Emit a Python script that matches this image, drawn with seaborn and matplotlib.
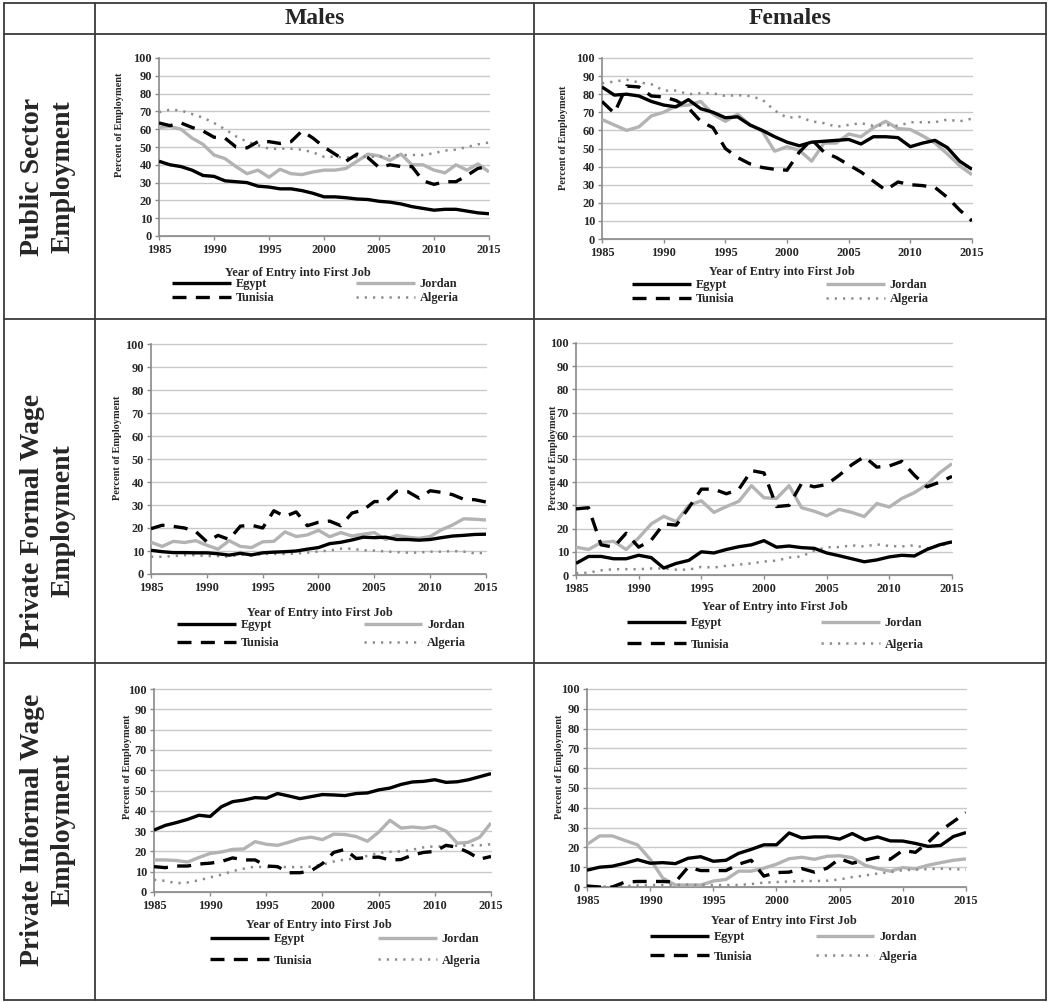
import numpy as np
import pandas as pd
import matplotlib
matplotlib.use("Agg")
import matplotlib.pyplot as plt
import seaborn as sns

years = list(range(1985, 2016))
countries = ["Egypt", "Jordan", "Tunisia", "Algeria"]
col_titles = ["Males", "Females"]
row_titles = ["Public Sector\nEmployment", "Private Formal Wage\nEmployment", "Private Informal Wage\nEmployment"]
x_ticks = [1985, 1990, 1995, 2000, 2005, 2010, 2015]
y_ticks = [0, 10, 20, 30, 40, 50, 60, 70, 80, 90, 100]
xlabel_text = "Year of Entry into First Job"
ylabel_text = "Percent of Employment"

# ---- Public sector, males
pub_m_egypt = [42, 40, 39, 37, 34, 33.5, 31, 30.5, 30, 28, 27.5, 26.5, 26.5, 25.5, 24, 22, 22, 21.5, 20.8, 20.5, 19.5, 19, 18, 16.5, 15.5, 14.5, 15, 15, 14, 13, 12.5]
pub_m_jordan = [61, 61.5, 60, 55, 51.5, 45.5, 43.5, 39, 35, 37, 33, 37.5, 35, 34.5, 36, 37, 37, 38, 42, 46, 45, 42.5, 46, 40, 40, 37, 35.5, 40, 37, 40.5, 36]
pub_m_tunisia = [63.5, 62, 63.5, 61, 59, 55.5, 55, 50, 49.5, 53, 53, 52, 53, 59, 55, 50, 46, 42, 46, 44, 38.5, 40, 39, 39, 31, 29, 30.5, 30.5, 34, 38, 39]
pub_m_algeria = [69.5, 71, 70.5, 68.5, 66.5, 63.5, 60, 56, 53, 51, 49, 49, 49, 48.5, 47, 44.5, 44.5, 44, 44.5, 44.5, 44.5, 45, 45.5, 45.5, 45.5, 46.5, 48, 48.5, 50, 51.5, 52.5]

# ---- Public sector, females
pub_f_egypt = [84, 79.5, 80, 79, 76, 74, 73, 77, 72, 70, 67, 67.5, 63, 60, 56.5, 53.5, 51.5, 53.5, 54, 54.5, 55, 52.5, 56.5, 56.5, 56, 51, 53, 54.5, 50.5, 43, 38.5]
pub_f_jordan = [66, 63, 60, 62, 68, 70, 73.5, 74, 76, 69, 65, 69, 63, 59.5, 48.5, 51, 49, 43, 53, 53, 58, 56.5, 61.5, 65, 61, 60.5, 57, 53, 47, 40.5, 35.5]
pub_f_tunisia = [76, 69.5, 84.5, 84, 79, 78.5, 76.5, 72.5, 65, 61.5, 50, 45, 41.5, 39.5, 38.5, 38, 48, 55, 48, 45, 41, 37, 32, 27, 31.5, 30, 29.5, 28.5, 23, 16, 10]
pub_f_algeria = [86, 87, 88, 86.5, 85.5, 82, 82, 80, 80.5, 80.5, 79, 79.5, 79, 77, 71, 67, 67.5, 65, 64, 62, 63, 64, 62.5, 63, 62.5, 64.5, 64.5, 64.5, 66, 65, 66.5]

# ---- Private formal wage, males
frm_m_egypt = [10.3, 9.7, 9.3, 9.3, 9.2, 9.2, 8.8, 8.2, 9, 8.3, 9.2, 9.5, 9.7, 10, 10.8, 11.5, 13.2, 13.8, 14.8, 16, 15.8, 16, 15, 15, 14.7, 15, 15.8, 16.5, 16.8, 17.2, 17.3]
frm_m_jordan = [13.8, 12, 14.2, 13.7, 14.5, 12.5, 10.8, 14.5, 12, 11.5, 14, 14.2, 18.3, 16.3, 17, 19, 16.2, 18, 16.5, 17.3, 18, 15, 16.8, 16, 15.5, 16.3, 19.2, 21.3, 24, 23.8, 23.5]
frm_m_tunisia = [19.7, 21.2, 20.7, 20, 18.5, 14, 16.8, 15, 20.8, 21.2, 20, 27.5, 25, 27, 21, 22.5, 23, 21, 26.5, 27.8, 31.5, 31.5, 36, 35.8, 33, 36.2, 35.5, 34.5, 32.5, 32.3, 31.3]
frm_m_algeria = [7.5, 7.5, 7.8, 8.2, 8.2, 7.8, 7.8, 7.5, 8.5, 8, 8.8, 8.7, 8.7, 8.9, 9.3, 9.8, 10.2, 11, 11, 10.3, 10.2, 9.8, 9.5, 9.3, 9.3, 9.7, 9.7, 10, 9.7, 9, 9.2]

# ---- Private formal wage, females
frm_f_egypt = [5, 8, 8, 7, 7, 8.5, 7.5, 3, 5, 6.3, 10, 9.5, 11, 12.2, 13, 14.8, 12, 12.5, 11.8, 11.5, 9.5, 8.3, 7, 5.7, 6.5, 7.8, 8.5, 8.2, 11, 13, 14.3]
frm_f_jordan = [12, 11, 14, 14.5, 11, 16, 22, 25.3, 23, 30, 32, 27, 29.5, 31.8, 38.5, 33.3, 33, 38.5, 29, 27.5, 25.5, 28.3, 27, 25.2, 30.8, 29.3, 33, 35.5, 39, 44, 48]
frm_f_tunisia = [28.5, 29, 13, 12, 18, 12, 15, 22, 21.5, 29, 37, 37, 35, 37, 45, 44, 29.5, 30, 39.5, 38, 39, 43, 47.5, 51, 46.5, 47, 49, 43, 38, 40, 42.5]
frm_f_algeria = [0.8, 1, 2, 2.5, 2.5, 2.5, 2.8, 2.8, 2.3, 2.3, 3.5, 3.2, 4, 4.5, 5, 5.8, 6.2, 7.5, 8, 10.5, 12, 12, 12.8, 12.3, 13.2, 12.5, 12.3, 12.8, 11.5, 12.5, 14]

# ---- Private informal wage, males
inf_m_egypt = [30.5, 32.8, 34.2, 35.8, 37.8, 37.2, 42, 44.5, 45.3, 46.5, 46.2, 48.5, 47.3, 46, 47, 48, 47.8, 47.5, 48.5, 48.8, 50.3, 51.2, 53, 54.2, 54.5, 55.3, 54, 54.3, 55.3, 56.8, 58.3]
inf_m_jordan = [15.8, 15.8, 15.5, 14.8, 17, 19, 19.7, 21, 21.2, 24.8, 23.5, 23, 24.5, 26.3, 27, 25.8, 28.5, 28.3, 27.3, 25, 29.5, 35.3, 31.5, 32, 31.5, 32.3, 30, 24, 24.5, 27, 34]
inf_m_tunisia = [12.5, 12, 12.8, 12.8, 13.8, 14.2, 15, 16.8, 15.8, 15.8, 12.8, 12.5, 9.5, 9.5, 10.5, 14, 19.5, 21, 16.5, 17, 17.2, 15.8, 16, 18.2, 19.5, 20, 23, 22, 19.5, 16.2, 17.5]
inf_m_algeria = [6, 5.5, 4.3, 4.7, 5.8, 7.2, 8.5, 10.3, 11.5, 12.5, 12.2, 12.3, 12.3, 12.2, 12.5, 13.5, 15, 16, 16.5, 17.8, 19.3, 19.8, 20, 20.8, 22, 22.5, 22.5, 22.8, 23, 23, 23.5]

# ---- Private informal wage, females
inf_f_egypt = [8.5, 10, 10.5, 12, 13.8, 12, 12.3, 11.8, 14.5, 15.3, 13, 13.5, 17, 19, 21.3, 21.3, 27.3, 24.8, 25.3, 25.3, 24.2, 27, 23.8, 25.3, 23.3, 23.2, 22, 20.5, 21, 25.5, 27.5]
inf_f_jordan = [21.5, 25.8, 25.8, 23.5, 21.3, 14, 4.5, 1, 1, 1, 3, 3.8, 8, 8, 9.5, 11.5, 14.3, 15, 14, 15.5, 15.8, 14.8, 11, 9.3, 8, 9.8, 9.2, 11, 12.3, 13.5, 14.2]
inf_f_tunisia = [0.5, 0, 0, 2.5, 2.8, 2.8, 2.8, 2.5, 10, 8.3, 8.3, 8.3, 11.5, 13.5, 5.5, 7.3, 7.5, 9.3, 7.5, 9.5, 14.3, 12, 13.5, 15, 14, 18.5, 17.5, 22.5, 28.5, 33, 37.5]
inf_f_algeria = [0.3, 0.2, 0.2, 0.5, 0.8, 1, 1, 1, 1.2, 1, 1, 1, 1, 1.5, 2.2, 2.5, 2.8, 3, 3, 3.2, 3.8, 5, 5.8, 6.8, 7.5, 8.5, 8.8, 9, 9.3, 9, 8.8]

panel_series = [
    [pub_m_egypt, pub_m_jordan, pub_m_tunisia, pub_m_algeria],
    [pub_f_egypt, pub_f_jordan, pub_f_tunisia, pub_f_algeria],
    [frm_m_egypt, frm_m_jordan, frm_m_tunisia, frm_m_algeria],
    [frm_f_egypt, frm_f_jordan, frm_f_tunisia, frm_f_algeria],
    [inf_m_egypt, inf_m_jordan, inf_m_tunisia, inf_m_algeria],
    [inf_f_egypt, inf_f_jordan, inf_f_tunisia, inf_f_algeria],
]

# ---------------- layout (pixels) ----------------
W, H = 1050, 1002
sns.set_theme(style="white")
plt.rcParams["font.family"] = ["Liberation Serif", "DejaVu Serif"]
plt.rcParams["font.weight"] = "bold"
plt.rcParams["axes.labelweight"] = "bold"

fig = plt.figure(figsize=(W / 100, H / 100), dpi=100)
fig.patch.set_facecolor("white")

def fx(px):
    return px / W

def fy(py):
    return 1 - py / H

# table lines
tbl_color = "#3a3a3a"
tl, tr, tt, tb = 4, 1046, 3, 1000
vcols = [95, 534]
hrows = [34, 319, 663]
for x in [tl, tr] + vcols:
    fig.add_artist(plt.Line2D([fx(x), fx(x)], [fy(tt), fy(tb)], color=tbl_color, lw=1.3))
for y in [tt, tb] + hrows:
    fig.add_artist(plt.Line2D([fx(tl), fx(tr)], [fy(y), fy(y)], color=tbl_color, lw=1.3))

# headers
fig.text(fx((95 + 534) / 2), fy(18), col_titles[0], ha="center", va="center", fontsize=17, fontweight="bold")
fig.text(fx((534 + 1046) / 2), fy(18), col_titles[1], ha="center", va="center", fontsize=17, fontweight="bold")
row_centers = [177, 521, 830]
for rt, rc in zip(row_titles, row_centers):
    fig.text(fx(48), fy(rc), rt, ha="center", va="center", rotation=90, fontsize=20,
             fontweight="bold", linespacing=1.3, multialignment="center")

# per-panel geometry: axes (l, r, t, b), ylabel (x, y), xlabel (x, y), legend (x, y_top, labelspacing, colspacing)
panels = [
    dict(ax=(159, 489, 58, 236), yl=(119, 125), xl=(298, 273), lg=(172, 278, 0.17, 6.7)),
    dict(ax=(602, 972, 58, 239), yl=(564, 138), xl=(782, 272), lg=(632, 279, 0.17, 7.5)),
    dict(ax=(151, 486, 344, 574), yl=(118, 448), xl=(320, 613), lg=(177, 619, 0.53, 6.9)),
    dict(ax=(576, 952, 343, 575), yl=(553, 458), xl=(775, 607), lg=(627, 617, 0.8, 7.5)),
    dict(ax=(154, 491, 689, 892), yl=(128, 767), xl=(319, 925), lg=(210, 933, 0.8, 5.4)),
    dict(ax=(587, 966, 689, 887), yl=(559, 767), xl=(784, 921), lg=(650, 931, 0.62, 5.2)),
]

styles = {
    "Egypt": dict(color="black", lw=2.4, dashes=None),
    "Jordan": dict(color="#b3b3b3", lw=2.4, dashes=None),
    "Tunisia": dict(color="black", lw=2.4, dashes=(4.2, 2.8)),
    "Algeria": dict(color="#8c8c8c", lw=1.8, dashes=(0.9, 2.4)),
}
draw_order = ["Jordan", "Algeria", "Tunisia", "Egypt"]

for p, series in zip(panels, panel_series):
    l, r, t, b = p["ax"]
    ax = fig.add_axes([fx(l), fy(b), (r - l) / W, (b - t) / H])
    ax.set_facecolor("white")
    df = pd.DataFrame({"year": years * 4,
                       "value": sum([list(s) for s in series], []),
                       "country": sum([[c] * len(years) for c in countries], [])})
    handles = {}
    for c in draw_order:
        st = styles[c]
        sub = df[df["country"] == c]
        sns.lineplot(data=sub, x="year", y="value", ax=ax, color=st["color"], lw=st["lw"],
                     legend=False, zorder=3)
        ln = ax.lines[-1]
        if st["dashes"] is not None:
            ln.set_dashes(st["dashes"])
        ln.set_solid_capstyle("butt")
        handles[c] = ln
    ax.set_xlim(1985, 2015)
    ax.set_ylim(0, 100)
    ax.set_xticks(x_ticks)
    ax.set_yticks(y_ticks)
    ax.yaxis.grid(True, color="#c9c9c9", lw=1.0, zorder=0)
    ax.xaxis.grid(False)
    for g in ax.get_ygridlines():
        g.set_clip_on(False)
    for s in ["top", "right"]:
        ax.spines[s].set_visible(False)
    for s in ["left", "bottom"]:
        ax.spines[s].set_color("#8a8a8a")
        ax.spines[s].set_linewidth(1.2)
    ax.tick_params(axis="y", length=3, width=1, color="#8a8a8a", pad=2, labelsize=8.8, left=True)
    ax.tick_params(axis="x", length=3, width=1, color="#8a8a8a", pad=3, labelsize=8.8, bottom=True)
    for lab in ax.get_xticklabels() + ax.get_yticklabels():
        lab.set_fontweight("bold")
    ax.set_xlabel("")
    ax.set_ylabel("")
    fig.text(fx(p["yl"][0]), fy(p["yl"][1]), ylabel_text, rotation=90, ha="center", va="center",
             fontsize=7.5, fontweight="bold")
    fig.text(fx(p["xl"][0]), fy(p["xl"][1]), xlabel_text, ha="center", va="center",
             fontsize=8.8, fontweight="bold")
    lx, ly, lsp, csp = p["lg"]
    order = ["Egypt", "Tunisia", "Jordan", "Algeria"]
    leg = ax.legend([handles[c] for c in order], order, ncol=2, loc="upper left",
                    bbox_to_anchor=(fx(lx), fy(ly)), bbox_transform=fig.transFigure,
                    frameon=False, handlelength=4.8, handletextpad=0.4, borderpad=0,
                    borderaxespad=0, labelspacing=lsp, columnspacing=csp,
                    prop=dict(family="Liberation Serif", weight="bold", size=8.8))

fig.savefig("out.png", dpi=100, facecolor="white")
